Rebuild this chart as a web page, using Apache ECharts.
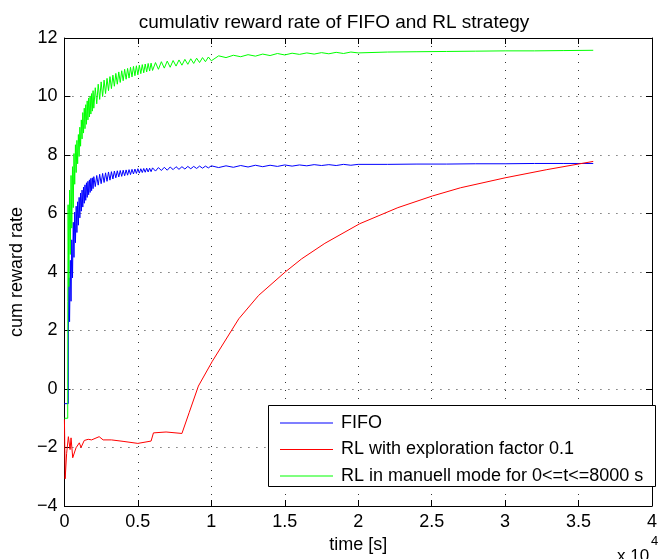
<!DOCTYPE html>
<html>
<head>
<meta charset="utf-8">
<script src="https://cdn.jsdelivr.net/npm/echarts@6/dist/echarts.min.js"></script>
<style>html,body{margin:0;padding:0;background:#fff}#c{width:660px;height:559px}</style>
</head>
<body>
<div id="c"></div>
<script>
// ---- data (time in seconds, values = cumulative reward rate) ----
var xTicks = [0, 5000, 10000, 15000, 20000, 25000, 30000, 35000, 40000];
var yTicks = [-4, -2, 0, 2, 4, 6, 8, 10, 12];

var fifoTime = [0, 265, 270,
  300, 350, 400, 450, 500, 550, 600, 650, 700, 750, 800, 850, 900, 950, 1000, 1050, 1100, 1150, 1200, 1250, 1300, 1350,
  1400, 1450, 1500, 1550, 1600, 1650, 1700, 1750, 1800, 1850, 1900, 1950, 2000,
  2100, 2200, 2300, 2400, 2500, 2600, 2700, 2800, 2900, 3000, 3100, 3200, 3300, 3400, 3500, 3600, 3700, 3800, 3900, 4000,
  4100, 4200, 4300, 4400, 4500, 4600, 4700, 4800, 4900, 5000, 5100, 5200, 5300, 5400, 5500, 5600, 5700, 5800, 5900, 6000,
  6200, 6400, 6600, 6800, 7000, 7200, 7400, 7600, 7800, 8000, 8200, 8400, 8600, 8800, 9000, 9200, 9400, 9600, 9800, 10000,
  10500, 11000, 11500, 12000, 12500, 13000, 13500, 14000, 14500, 15000, 15500, 16000, 16500, 17000, 17500, 18000, 18500, 19000, 19500, 20000,
  22000, 24000, 26000, 28000, 30000, 32000, 34000, 36000];
var fifoValue = [-0.5, -0.5, 2.0,
  3.8, 2.3, 4.4, 3.0, 5.1, 3.8, 5.7, 4.5, 6.05, 5.0, 6.25, 5.35, 6.4, 5.6, 6.55, 5.85, 6.7, 6.08, 6.8, 6.22, 6.9, 6.35,
  6.98, 6.45, 7.05, 6.55, 7.1, 6.64, 7.15, 6.72, 7.2, 6.78, 7.22, 6.85, 7.26,
  6.92, 7.3, 6.97, 7.34, 7.02, 7.37, 7.06, 7.39, 7.1, 7.42, 7.14, 7.43, 7.18, 7.45, 7.22, 7.46, 7.25, 7.47, 7.27, 7.48,
  7.29, 7.49, 7.31, 7.5, 7.33, 7.51, 7.35, 7.52, 7.37, 7.53, 7.38, 7.53, 7.4, 7.54, 7.41, 7.55, 7.42, 7.55, 7.43, 7.56,
  7.45, 7.57, 7.47, 7.58, 7.48, 7.59, 7.5, 7.6, 7.51, 7.6, 7.52, 7.61, 7.53, 7.61, 7.54, 7.62, 7.55, 7.62, 7.56, 7.63,
  7.57, 7.63, 7.58, 7.64, 7.59, 7.65, 7.6, 7.65, 7.61, 7.66, 7.62, 7.66, 7.63, 7.67, 7.64, 7.67, 7.64, 7.68, 7.65, 7.68,
  7.68, 7.69, 7.69, 7.7, 7.7, 7.71, 7.71, 7.71];

var rlTime = [0, 50, 150, 270, 385, 450, 565, 790, 1015, 1130, 1350, 1620, 1850, 2365, 2635, 3200, 3990, 5000, 5900, 6060,
  6920, 8000, 8490, 9120, 10070, 11870, 13220, 15030, 16150, 17730, 20100, 22700, 25060, 26970, 30000, 32840, 35090, 36000];
var rlValue = [-1.04, -3.07, -2.2, -1.63, -2.07, -1.67, -2.35, -2.01, -1.84, -2.0, -1.76, -1.72, -1.74, -1.63, -1.74, -1.74, -1.79, -1.86, -1.78, -1.5,
  -1.47, -1.52, -0.81, 0.1, 0.95, 2.4, 3.2, 4.0, 4.45, 4.98, 5.65, 6.2, 6.6, 6.88, 7.22, 7.5, 7.7, 7.78];

var manualTime = [0, 225, 235,
  250, 300, 350, 400, 450, 500, 550, 600, 650, 700, 750, 800, 850, 900, 950, 1000, 1050, 1100, 1150, 1200, 1250, 1300, 1350,
  1400, 1450, 1500, 1550, 1600, 1650, 1700, 1750, 1800, 1850, 1900, 1950, 2000,
  2100, 2200, 2300, 2400, 2500, 2600, 2700, 2800, 2900, 3000, 3100, 3200, 3300, 3400, 3500, 3600, 3700, 3800, 3900, 4000,
  4100, 4200, 4300, 4400, 4500, 4600, 4700, 4800, 4900, 5000, 5100, 5200, 5300, 5400, 5500, 5600, 5700, 5800, 5900, 6000,
  6200, 6400, 6600, 6800, 7000, 7200, 7400, 7600, 7800, 8000, 8200, 8400, 8600, 8800, 9000, 9200, 9400, 9600, 9800, 10000,
  10500, 11000, 11500, 12000, 12500, 13000, 13500, 14000, 14500, 15000, 15500, 16000, 16500, 17000, 17500, 18000, 18500, 19000, 19500, 20000,
  22000, 24000, 26000, 28000, 30000, 32000, 34000, 36000];
var manualValue = [-1.0, -1.0, 3.0,
  6.3, 3.5, 6.8, 4.6, 7.3, 5.5, 7.6, 6.2, 8.05, 7.0, 8.35, 7.4, 8.5, 7.7, 8.7, 7.95, 8.95, 8.3, 9.2, 8.55, 9.45, 8.75, 9.6,
  8.9, 9.72, 9.05, 9.85, 9.2, 9.95, 9.3, 10.02, 9.4, 10.1, 9.5, 10.2, 9.6,
  10.3, 9.75, 10.42, 9.9, 10.5, 10.0, 10.56, 10.1, 10.62, 10.2, 10.68, 10.27, 10.73, 10.35, 10.79, 10.42, 10.84, 10.48, 10.88, 10.54,
  10.93, 10.59, 10.96, 10.63, 11.0, 10.67, 11.03, 10.71, 11.05, 10.74, 11.07, 10.78, 11.09, 10.81, 11.11, 10.84, 11.13, 10.87, 11.14, 10.89,
  11.16, 10.93, 11.19, 10.97, 11.21, 11.0, 11.23, 11.04, 11.25, 11.07, 11.27, 11.1, 11.29, 11.13, 11.31, 11.16, 11.33, 11.19, 11.35, 11.22,
  11.39, 11.33, 11.41, 11.36, 11.43, 11.38, 11.45, 11.4, 11.47, 11.42, 11.48, 11.44, 11.49, 11.45, 11.5, 11.46, 11.51, 11.47, 11.52, 11.49,
  11.52, 11.53, 11.54, 11.55, 11.56, 11.56, 11.57, 11.58];

var seriesNames = ['FIFO', 'RL with exploration factor 0.1', 'RL in manuell mode for 0<=t<=8000 s'];
var titleText = 'cumulativ reward rate of FIFO and RL strategy';
var xName = 'time [s]';
var yName = 'cum reward rate';

function pairs(t, v) { return t.map(function (x, i) { return [x, v[i]]; }); }

var FONT = '"Liberation Sans", Arial, Helvetica, sans-serif';
var chart = echarts.init(document.getElementById('c'), null, { renderer: 'canvas' });

var grid = { left: 64, right: 4, top: 38, bottom: 52 };
function xAx(pos, labels) {
  return {
    type: 'value', position: pos, min: xTicks[0], max: xTicks[xTicks.length - 1], interval: xTicks[1] - xTicks[0],
    axisLine: { onZero: false, lineStyle: { color: '#000', width: 1 } },
    axisTick: { inside: true, length: 6, lineStyle: { color: '#000' } },
    axisLabel: labels ? { show: true, color: '#000', fontFamily: FONT, fontSize: 18, margin: 7,
      formatter: function (v) { return String(v / 10000); } } : { show: false },
    splitLine: labels ? { show: true, lineStyle: { color: '#333', type: [1, 7], width: 1 } } : { show: false },
    name: labels ? xName : '', nameLocation: 'middle', nameGap: 30,
    nameTextStyle: { color: '#000', fontFamily: FONT, fontSize: 18 }
  };
}
function yAx(pos, labels) {
  return {
    type: 'value', position: pos, min: yTicks[0], max: yTicks[yTicks.length - 1], interval: yTicks[1] - yTicks[0],
    axisLine: { onZero: false, lineStyle: { color: '#000', width: 1 } },
    axisTick: { inside: true, length: 6, lineStyle: { color: '#000' } },
    axisLabel: labels ? { show: true, color: '#000', fontFamily: FONT, fontSize: 18, margin: 7,
      formatter: function (v) { return String(v).replace('-', '\u2212'); } } : { show: false },
    splitLine: labels ? { show: true, lineStyle: { color: '#333', type: [1, 7], width: 1 } } : { show: false },
    name: labels ? yName : '', nameLocation: 'middle', nameGap: 34, nameRotate: 90,
    nameTextStyle: { color: '#000', fontFamily: FONT, fontSize: 18 }
  };
}

var colors = ['#0000ff', '#ff0000', '#00ff00'];
var dataSets = [pairs(fifoTime, fifoValue), pairs(rlTime, rlValue), pairs(manualTime, manualValue)];

chart.setOption({
  animation: false,
  backgroundColor: '#fff',
  title: { text: titleText, left: 329, top: 8, textAlign: 'center',
    textStyle: { color: '#000', fontFamily: FONT, fontSize: 19, fontWeight: 'normal' } },
  grid: grid,
  xAxis: [xAx('bottom', true), xAx('top', false)],
  yAxis: [yAx('left', true), yAx('right', false)],
  legend: {
    orient: 'vertical', left: 280, top: 414, padding: 0, itemGap: 8.5,
    itemWidth: 53, itemHeight: 1, icon: 'rect', z: 10,
    textStyle: { color: '#000', fontFamily: FONT, fontSize: 18, padding: [0, 0, 0, 3] },
    data: seriesNames
  },
  graphic: [
    { type: 'rect', z: 5, shape: { x: 268.5, y: 405.5, width: 387, height: 81 },
      style: { fill: '#fff', stroke: '#000', lineWidth: 1 } },
    { type: 'text', z: 5, left: 617, top: 548, style: { text: 'x 10', font: '17px ' + FONT, fill: '#000' } },
    { type: 'text', z: 5, left: 651, top: 535, style: { text: '4', font: '13px ' + FONT, fill: '#000' } }
  ],
  series: seriesNames.map(function (n, i) {
    return { name: n, type: 'line', data: dataSets[i], showSymbol: false, symbol: 'none', sampling: null,
      color: colors[i], lineStyle: { color: colors[i], width: 1 }, z: 2 + i };
  })
});
</script>
</body>
</html>
